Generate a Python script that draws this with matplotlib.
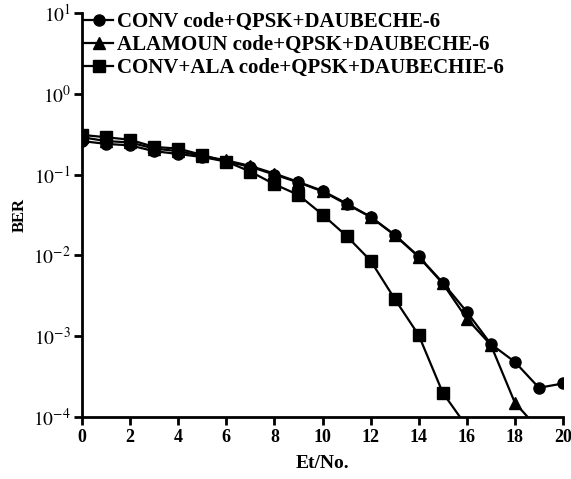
import matplotlib
matplotlib.use("Agg")
import matplotlib.pyplot as plt
import numpy as np

# Data
x = list(range(0, 21))
conv_ber = [0.26, 0.24, 0.23, 0.195, 0.18, 0.165, 0.145, 0.125, 0.100, 0.080, 0.062,
            0.043, 0.030, 0.018, 0.0097, 0.0046, 0.0020, 0.00080, 0.00048, 0.00023, 0.00026]
x_ala = list(range(0, 20))
ala_ber = [0.29, 0.26, 0.25, 0.21, 0.195, 0.17, 0.15, 0.128, 0.103, 0.081, 0.063,
           0.044, 0.030, 0.0178, 0.0096, 0.0045, 0.00165, 0.00078, 0.000150, 0.00007]
x_both = list(range(0, 17))
both_ber = [0.31, 0.29, 0.27, 0.22, 0.21, 0.175, 0.145, 0.109, 0.076, 0.056, 0.032,
            0.0174, 0.0086, 0.0029, 0.00103, 0.00020, 0.000076]
labels = ["CONV code+QPSK+DAUBECHE-6",
          "ALAMOUN code+QPSK+DAUBECHE-6",
          "CONV+ALA code+QPSK+DAUBECHIE-6"]
xticks = list(range(0, 21, 2))
yticks = [1e-4, 1e-3, 1e-2, 1e-1, 1e0, 1e1]
ytick_labels = [r"$10^{-4}$", r"$10^{-3}$", r"$10^{-2}$", r"$10^{-1}$", r"$10^{0}$", r"$10^{1}$"]

plt.rcParams['font.family'] = ['Liberation Serif', 'DejaVu Serif']
plt.rcParams['mathtext.fontset'] = 'stix'

W, H = 571, 479
fig = plt.figure(figsize=(W/100, H/100), dpi=100)
ax = fig.add_axes([82/W, 1 - 417/H, (563-82)/W, (417-13)/H])

lw = 1.6
ax.plot(x, conv_ber, '-o', color='black', lw=lw, ms=8, label=labels[0])
ax.plot(x_ala, ala_ber, '-^', color='black', lw=lw, ms=9, label=labels[1])
ax.plot(x_both, both_ber, '-s', color='black', lw=lw, ms=8, label=labels[2])

ax.set_yscale('log')
ax.set_xlim(0, 20)
ax.set_ylim(1e-4, 1e1)
ax.set_xticks(xticks)
ax.set_xticklabels([str(t) for t in xticks], fontsize=13, fontweight='bold')
ax.set_yticks(yticks)
ax.set_yticklabels(ytick_labels, fontsize=14)
ax.yaxis.set_minor_locator(matplotlib.ticker.NullLocator())
ax.tick_params(axis='both', direction='out', length=6, width=2, color='black')
ax.tick_params(axis='x', pad=3)
ax.tick_params(axis='y', pad=2)
for s in ['top', 'right']:
    ax.spines[s].set_visible(False)
for s in ['left', 'bottom']:
    ax.spines[s].set_linewidth(2)

ax.set_xlabel("Et/No.", fontsize=14, fontweight='bold', labelpad=6)
ax.set_ylabel("BER", fontsize=12, fontweight='bold', labelpad=4)

leg = fig.legend(loc='upper left', bbox_to_anchor=(84/W, 1 - 12/H), frameon=False,
                 prop={'size': 15, 'weight': 'bold'},
                 handlelength=1.4, handletextpad=0.2, labelspacing=0.15,
                 borderpad=0, borderaxespad=0)

fig.savefig("out.png", dpi=100)
